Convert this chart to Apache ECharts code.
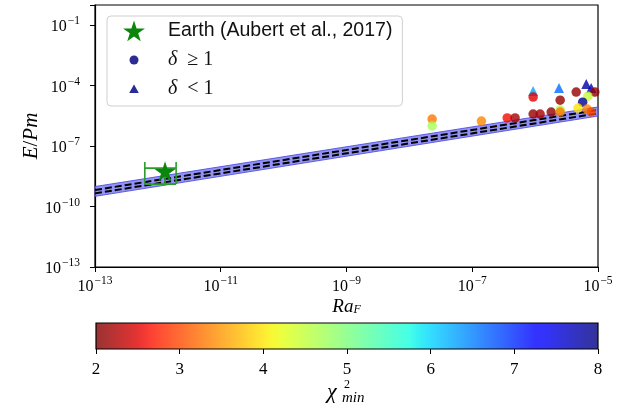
<!DOCTYPE html>
<html>
<head>
<meta charset="utf-8">
<script src="https://cdn.jsdelivr.net/npm/echarts@6/dist/echarts.min.js"></script>
<style>
  html, body { margin: 0; padding: 0; background: #fff; }
  #chart { width: 638px; height: 410px; }
</style>
</head>
<body>
<div id="chart"></div>
<script>
// Runs with delta >= 1 (circles): flux Rayleigh number, E/Pm, misfit chi2_min
const circleRa   = [2.3e-8, 2.3e-8, 1.4e-7, 3.6e-7, 4.8e-7, 9.3e-7, 9.3e-7, 1.2e-6, 1.8e-6, 2.5e-6, 2.5e-6, 2.5e-6, 4.5e-6, 8.9e-6, 6.9e-6, 5.7e-6, 4.8e-6, 6.7e-6, 7.8e-6];
const circleE    = [2.2e-6, 1.0e-6, 1.75e-6, 2.5e-6, 2.5e-6, 2.7e-5, 3.9e-6, 3.9e-6, 4.9e-6, 6.2e-6, 4.9e-6, 1.9e-5, 4.8e-5, 4.8e-5, 3.0e-5, 1.5e-5, 7.7e-6, 6.9e-6, 4.9e-6];
const circleChi2 = [3.3, 4.7, 3.4, 2.6, 2.2, 2.5, 2.1, 2.2, 2.1, 4.6, 3.3, 2.1, 2.1, 2.1, 4.5, 7.9, 4.0, 3.4, 3.0];

// Runs with delta < 1 (triangles)
const triRa   = [9.3e-7, 2.4e-6, 6.5e-6, 7.8e-6];
const triE    = [5.4e-5, 7.6e-5, 1.2e-4, 7.6e-5];
const triChi2 = [6.3, 6.6, 7.8, 7.7];

// Earth estimate (Aubert et al., 2017) with its uncertainty box
const earthRa = 1.3e-12;
const earthE = 5.6e-9;
const earthRaRange = [6.2e-13, 1.95e-12];
const earthERange = [1.3e-9, 1.6e-8];
const earthBarE = 8.1e-9;

// Scaling fits: shaded band and two dashed fit lines, at the axis ends
const fitRa = [1e-13, 1e-5];
const bandUpper = [9.8e-10, 8.7e-6];
const bandLower = [3.2e-10, 3.1e-6];
const fitLineA = [6.6e-10, 6.2e-6];
const fitLineB = [4.5e-10, 4.2e-6];

// Colour bar range and ticks
const chiMin = 2, chiMax = 8;
const chiTicks = [2, 3, 4, 5, 6, 7, 8];

const legendNames = ['Earth (Aubert et al., 2017)', 'δ ≥ 1', 'δ < 1'];

// reversed jet colormap
const JET = {
  r: [[0, 0], [0.35, 0], [0.66, 1], [0.89, 1], [1, 0.5]],
  g: [[0, 0], [0.125, 0], [0.375, 1], [0.64, 1], [0.91, 0], [1, 0]],
  b: [[0, 0.5], [0.11, 1], [0.34, 1], [0.65, 0], [1, 0]]
};
function channel(pts, t) {
  for (let i = 1; i < pts.length; i++) {
    if (t <= pts[i][0]) {
      const a = pts[i - 1], b = pts[i];
      return a[1] + (b[1] - a[1]) * (t - a[0]) / (b[0] - a[0]);
    }
  }
  return pts[pts.length - 1][1];
}
function jetR(t) {
  const u = 1 - t;
  const c = [channel(JET.r, u), channel(JET.g, u), channel(JET.b, u)].map(v => Math.round(v * 255));
  return 'rgb(' + c.join(',') + ')';
}
const NSAMP = 48;
const jetColors = [];
for (let i = 0; i <= NSAMP; i++) jetColors.push(jetR(i / NSAMP));

// star outline, optionally placed inside a padded box (for legend icons)
function starPath(cx, cy, R) {
  let d = '';
  for (let k = 0; k < 10; k++) {
    const ang = (-90 + 36 * k) * Math.PI / 180;
    const r = k % 2 === 0 ? R : R * 0.382;
    d += (k === 0 ? 'M' : 'L') + (cx + r * Math.cos(ang)).toFixed(2) + ',' + (cy + r * Math.sin(ang)).toFixed(2) + ' ';
  }
  return d + 'Z';
}
const ICON_W = 40, ICON_H = 22;
const boxPad = 'M0,0 M' + ICON_W + ',' + ICON_H + ' ';
const legendStar = 'path://' + boxPad + starPath(11, 12, 11.5);
const legendCircle = 'path://' + boxPad + 'M6.5,11 a4.5,4.5 0 1,0 9,0 a4.5,4.5 0 1,0 -9,0 Z';
const legendTri = 'path://' + boxPad + 'M11,6.5 L15.8,15 L6.2,15 Z';

const serif = '"Liberation Serif", "DejaVu Serif", serif';
const sans = '"Liberation Sans", Arial, sans-serif';

function logLabel(v) {
  const p = Math.round(Math.log10(v));
  if (p === 0) return '';
  return '{b|10}{s|' + (p < 0 ? '−' + (-p) : p) + '}';
}
const powRich = {
  b: { fontFamily: serif, fontSize: 16, color: '#000', verticalAlign: 'bottom', lineHeight: 20 },
  s: { fontFamily: serif, fontSize: 11.5, color: '#000', verticalAlign: 'top', lineHeight: 20, padding: [0, 0, 0, 1] }
};

const chart = echarts.init(document.getElementById('chart'), null, { renderer: 'canvas' });

const option = {
  animation: false,
  backgroundColor: '#fff',
  grid: [
    { left: 95, top: 5, width: 503, height: 262, show: true, borderColor: '#000', borderWidth: 1.2, backgroundColor: 'transparent' },
    { left: 96, top: 323, width: 502, height: 26 }
  ],
  xAxis: [
    {
      type: 'log', logBase: 10, gridIndex: 0, min: 1e-13, max: 1e-5, interval: 2,
      name: '{i|Ra}{sub|F}', nameLocation: 'middle', nameGap: 30, nameMoveOverlap: false,
      nameTextStyle: {
        rich: {
          i: { fontFamily: serif, fontStyle: 'italic', fontSize: 19, color: '#000', verticalAlign: 'top', lineHeight: 18 },
          sub: { fontFamily: serif, fontStyle: 'italic', fontSize: 12, color: '#000', verticalAlign: 'bottom', lineHeight: 19 }
        }
      },
      axisLine: { show: true, lineStyle: { color: '#000', width: 1.2 } },
      axisTick: { show: true, inside: false, length: 5, lineStyle: { color: '#000', width: 1 } },
      axisLabel: { margin: 8, formatter: logLabel, rich: powRich },
      splitLine: { show: false },
      minorTick: { show: false }
    },
    {
      type: 'value', gridIndex: 1, min: chiMin, max: chiMax, interval: 1,
      axisLine: { show: false },
      axisTick: { show: true, inside: false, length: 5, lineStyle: { color: '#000', width: 1 } },
      axisLabel: { margin: 12, fontFamily: serif, fontSize: 17, color: '#000',
        formatter: v => (chiTicks.indexOf(v) >= 0 ? String(v) : '') },
      splitLine: { show: false }
    }
  ],
  yAxis: [
    {
      type: 'log', logBase: 10, gridIndex: 0, min: 1e-13, max: 1, interval: 3,
      name: '{i|E}{n|/}{i|Pm}', nameLocation: 'middle', nameGap: 53, nameRotate: 90, nameMoveOverlap: false,
      nameTextStyle: {
        rich: {
          i: { fontFamily: serif, fontStyle: 'italic', fontSize: 21, color: '#000' },
          n: { fontFamily: serif, fontSize: 21, color: '#000' }
        }
      },
      axisLine: { show: true, lineStyle: { color: '#000', width: 1.2 } },
      axisTick: { show: true, inside: false, length: 5, lineStyle: { color: '#000', width: 1 } },
      axisLabel: { margin: 15, formatter: logLabel, rich: powRich },
      splitLine: { show: false },
      minorTick: { show: false }
    },
    { type: 'value', gridIndex: 1, min: 0, max: 1, show: false }
  ],
  visualMap: {
    type: 'continuous', show: false, min: chiMin, max: chiMax, dimension: 2,
    seriesIndex: [5, 6],
    inRange: { color: jetColors }
  },
  legend: {
    left: 107, top: 16,
    orient: 'vertical',
    padding: [4, 10, 6, 16],
    itemGap: 7,
    itemWidth: ICON_W, itemHeight: ICON_H,
    backgroundColor: '#fff',
    borderColor: '#cfcfcf', borderWidth: 1, borderRadius: 4,
    selectedMode: false,
    data: [
      { name: legendNames[0], icon: legendStar, itemStyle: { color: '#0c850c', opacity: 1 } },
      { name: legendNames[1], icon: legendCircle, itemStyle: { color: '#2b2b96', opacity: 1 } },
      { name: legendNames[2], icon: legendTri, itemStyle: { color: '#2b2b96', opacity: 1 } }
    ],
    formatter: function (name) {
      if (name === legendNames[0]) return '{e|' + name + '}';
      return '{d|δ}{m|  ' + name.slice(2) + '}';
    },
    textStyle: {
      rich: {
        e: { fontFamily: sans, fontSize: 19.5, color: '#111' },
        d: { fontFamily: serif, fontStyle: 'italic', fontSize: 20, color: '#111' },
        m: { fontFamily: serif, fontSize: 20, color: '#111' }
      }
    }
  },
  graphic: [
    { type: 'text', left: 327, top: 381, style: { text: 'χ', font: 'italic 22px ' + serif, fill: '#000' } },
    { type: 'text', left: 344, top: 379, style: { text: '2', font: '12px ' + serif, fill: '#000' } },
    { type: 'text', left: 342, top: 391, style: { text: 'min', font: 'italic 15px ' + serif, fill: '#000' } }
  ],
  series: [
    // 0: shaded uncertainty band of the fit
    {
      type: 'custom', name: 'band', xAxisIndex: 0, yAxisIndex: 0, z: 1, silent: true,
      data: fitRa.map((x, i) => [x, bandLower[i], bandUpper[i]]),
      renderItem: function (params, api) {
        if (params.dataIndex !== 0) return null;
        const pts = [];
        for (let i = 0; i < fitRa.length; i++) pts.push(api.coord([fitRa[i], bandUpper[i]]));
        for (let i = fitRa.length - 1; i >= 0; i--) pts.push(api.coord([fitRa[i], bandLower[i]]));
        return {
          type: 'polygon',
          shape: { points: pts },
          style: { fill: 'rgba(105,105,242,0.72)', stroke: 'rgba(80,80,225,0.9)', lineWidth: 1 }
        };
      }
    },
    // 1, 2: dashed fit lines
    {
      type: 'line', name: 'fitA', xAxisIndex: 0, yAxisIndex: 0, z: 2, silent: true, symbol: 'none',
      data: fitRa.map((x, i) => [x, fitLineA[i]]),
      lineStyle: { color: '#000', width: 2, type: [7, 3] }
    },
    {
      type: 'line', name: 'fitB', xAxisIndex: 0, yAxisIndex: 0, z: 2, silent: true, symbol: 'none',
      data: fitRa.map((x, i) => [x, fitLineB[i]]),
      lineStyle: { color: '#000', width: 2, type: [7, 3] }
    },
    // 3: Earth uncertainty bars
    {
      type: 'custom', name: 'earthErr', xAxisIndex: 0, yAxisIndex: 0, z: 3, silent: true,
      data: [[earthRa, earthE]],
      renderItem: function (params, api) {
        const lo = earthRaRange[0], hi = earthRaRange[1];
        const eTop = earthERange[1], eBot = earthERange[0];
        const st = { stroke: '#2a9d2a', lineWidth: 1.6 };
        const seg = (a, b) => {
          const p = api.coord(a), q = api.coord(b);
          return { type: 'line', shape: { x1: p[0], y1: p[1], x2: q[0], y2: q[1] }, style: st };
        };
        return {
          type: 'group',
          children: [
            seg([lo, earthBarE], [hi, earthBarE]),
            seg([lo, eTop], [lo, eBot]),
            seg([hi, eTop], [hi, eBot]),
            seg([earthRa, earthBarE], [earthRa, eBot]),
            seg([lo, eBot], [hi, eBot])
          ]
        };
      }
    },
    // 4: Earth marker
    {
      type: 'scatter', name: legendNames[0], xAxisIndex: 0, yAxisIndex: 0, z: 4,
      symbol: 'path://' + starPath(50, 50, 50), symbolSize: [21, 20],
      data: [[earthRa, earthE]],
      itemStyle: { color: '#0c850c', opacity: 1 }
    },
    // 5: delta < 1 runs
    {
      type: 'scatter', name: legendNames[2], xAxisIndex: 0, yAxisIndex: 0, z: 5,
      symbol: 'triangle', symbolSize: 10,
      data: triRa.map((x, i) => [x, triE[i], triChi2[i]]),
      itemStyle: { opacity: 0.8 }
    },
    // 6: delta >= 1 runs
    {
      type: 'scatter', name: legendNames[1], xAxisIndex: 0, yAxisIndex: 0, z: 6,
      symbol: 'circle', symbolSize: 9.5,
      data: circleRa.map((x, i) => [x, circleE[i], circleChi2[i]]),
      itemStyle: { opacity: 0.8 }
    },
    // 7: colour bar
    {
      type: 'custom', name: 'colorbar', xAxisIndex: 1, yAxisIndex: 1, z: 2, silent: true,
      data: [[chiMin, 0, chiMax, 1]],
      renderItem: function (params, api) {
        const p0 = api.coord([api.value(0), api.value(3)]);
        const p1 = api.coord([api.value(2), api.value(1)]);
        const stops = jetColors.map((c, i) => ({ offset: i / NSAMP, color: c }));
        return {
          type: 'group',
          children: [
            {
              type: 'rect',
              shape: { x: p0[0], y: p0[1], width: p1[0] - p0[0], height: p1[1] - p0[1] },
              style: { fill: new echarts.graphic.LinearGradient(0, 0, 1, 0, stops), opacity: 0.8 }
            },
            {
              type: 'rect',
              shape: { x: p0[0], y: p0[1], width: p1[0] - p0[0], height: p1[1] - p0[1] },
              style: { fill: 'none', stroke: '#000', lineWidth: 1.2 }
            }
          ]
        };
      }
    }
  ]
};

chart.setOption(option);
</script>
</body>
</html>
